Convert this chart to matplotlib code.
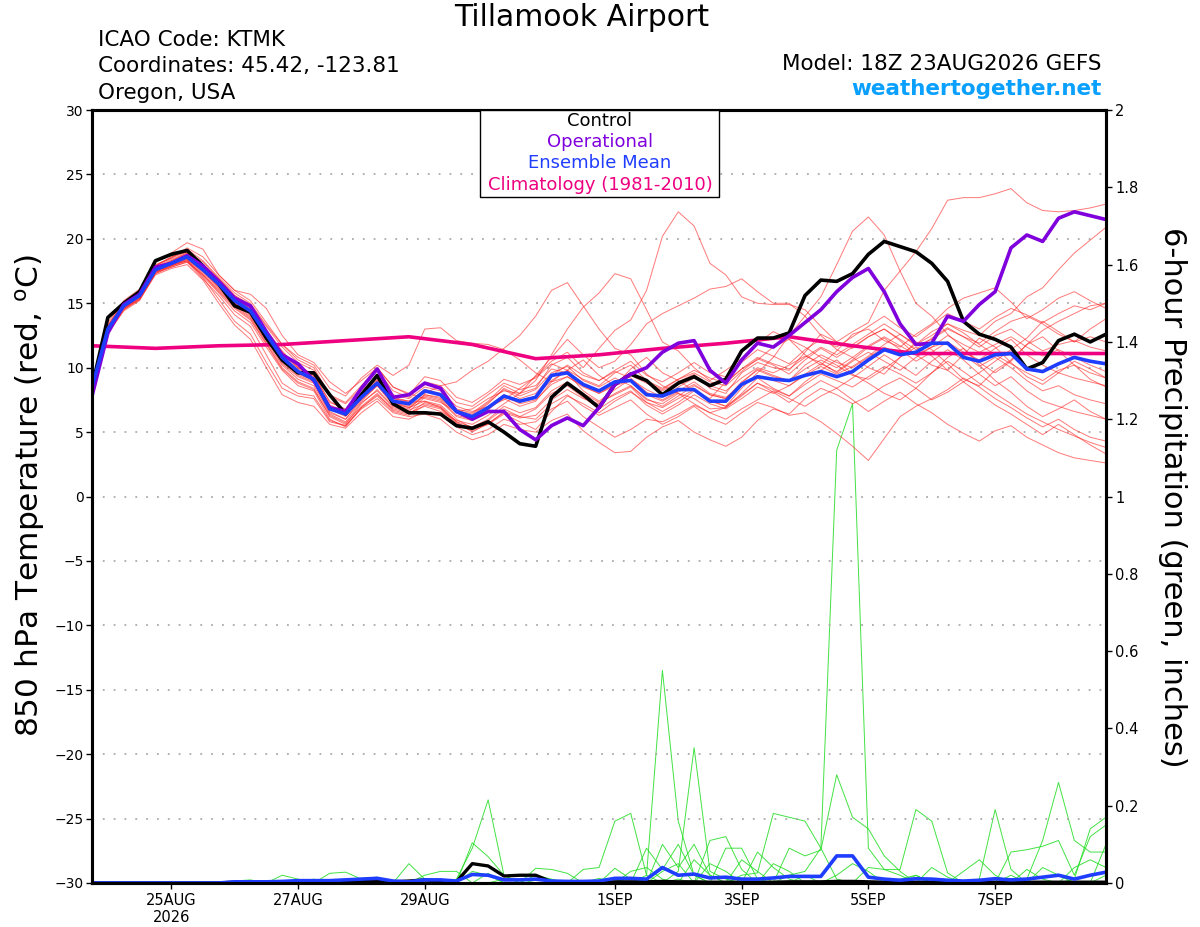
import numpy as np
import pandas as pd
import matplotlib
matplotlib.use("Agg")
import matplotlib.pyplot as plt
from matplotlib.patches import Rectangle

plt.rcParams['font.family'] = ['DejaVu Sans']

# 6-hourly forecast steps, 18Z 23AUG2026 to 18Z 8SEP2026
times = pd.date_range("2026-08-23 18:00", periods=65, freq="6h")
clim_times = times[::4]

tick_dates = pd.to_datetime(["2026-08-25", "2026-08-27", "2026-08-29", "2026-09-01",
                             "2026-09-03", "2026-09-05", "2026-09-07"])
tick_labels = ["25AUG\n2026", "27AUG", "29AUG", "1SEP", "3SEP", "5SEP", "7SEP"]

# 850 hPa temperature (C)
control_t = [8.5, 13.9, 15.0, 15.9, 18.3, 18.8, 19.1, 17.9, 16.5, 14.8, 14.3, 12.3, 10.6,
             9.6, 9.6, 7.9, 6.4, 7.9, 9.4, 7.2, 6.5, 6.5, 6.4, 5.5, 5.3,
             5.8, 5.0, 4.1, 3.9, 7.7, 8.8, 7.9, 6.9, 8.7, 9.5, 9.0, 7.9,
             8.8, 9.3, 8.6, 9.1, 11.3, 12.3, 12.3, 12.7, 15.6, 16.8, 16.7, 17.3,
             18.8, 19.8, 19.4, 19.0, 18.1, 16.7, 13.6, 12.6, 12.2, 11.6, 9.9, 10.4, 12.1, 12.6, 12.0, 12.6]
oper_t = [7.8, 12.7, 14.9, 15.7, 17.8, 18.1, 18.7, 17.9, 16.7, 15.4, 14.8, 12.8, 11.0,
          10.3, 9.0, 6.9, 6.6, 8.4, 9.9, 7.7, 7.9, 8.8, 8.4, 6.6, 6.0,
          6.6, 6.6, 5.2, 4.4, 5.5, 6.1, 5.5, 6.9, 8.7, 9.5, 10.0, 11.2,
          11.9, 12.1, 9.8, 8.8, 10.6, 11.9, 11.6, 12.5, 13.5, 14.5, 15.9, 17.0,
          17.7, 15.9, 13.4, 11.8, 11.9, 14.0, 13.6, 14.9, 15.9, 19.3, 20.3, 19.8, 21.6, 22.1, 21.8, 21.5]
mean_t = [8.5, 13.0, 14.8, 15.6, 17.6, 18.1, 18.6, 17.6, 16.5, 15.2, 14.4, 12.6, 10.8,
          9.7, 9.1, 6.8, 6.4, 7.7, 8.8, 7.4, 7.2, 8.2, 7.9, 6.6, 6.2,
          6.9, 7.8, 7.4, 7.7, 9.4, 9.6, 8.7, 8.2, 8.9, 9.0, 7.9, 7.8,
          8.3, 8.3, 7.4, 7.4, 8.7, 9.3, 9.1, 9.0, 9.4, 9.7, 9.3, 9.7,
          10.6, 11.4, 11.0, 11.2, 11.9, 11.9, 10.8, 10.5, 11.0, 11.1, 9.9, 9.7, 10.3, 10.8, 10.5, 10.3]
clim_t = [11.7, 11.5, 11.7, 11.8, 12.1, 12.4, 11.8, 10.7, 11.0, 11.5, 11.9, 12.4, 11.7,
          11.1, 11.1, 11.1, 11.1]

ens01 = [8.6, 13.2, 14.9, 15.8, 17.9, 18.6, 19.0, 18.2, 16.9, 15.6, 14.8, 12.9, 11.2,
         10.1, 9.5, 7.3, 6.8, 8.2, 9.4, 7.9, 7.6, 8.5, 8.2, 7.0, 6.6,
         7.0, 7.5, 8.4, 9.3, 10.5, 11.2, 10.0, 11.5, 12.9, 13.7, 16.0, 20.2,
         22.1, 21.0, 18.1, 17.2, 15.5, 15.0, 14.9, 14.9, 14.5, 13.2, 12.0, 11.5,
         12.4, 13.0, 12.1, 11.0, 10.2, 9.8, 11.0, 12.3, 11.6, 10.4, 9.3, 8.7, 9.6, 10.5, 9.9, 9.2]
ens02 = [8.4, 12.8, 14.6, 15.4, 17.4, 18.0, 18.4, 17.5, 16.2, 14.9, 14.0, 12.2, 10.3,
         9.3, 8.8, 6.5, 6.0, 7.6, 9.0, 7.6, 7.4, 8.0, 8.6, 8.9, 9.8,
         10.5, 11.5, 12.5, 14.0, 16.0, 16.6, 14.8, 13.0, 11.5, 11.0, 9.5, 8.6,
         8.0, 7.2, 6.5, 6.9, 8.0, 9.2, 8.4, 7.8, 8.9, 9.8, 10.6, 9.5,
         8.8, 8.0, 7.5, 8.4, 9.6, 10.8, 11.5, 10.2, 9.0, 8.1, 7.0, 6.2, 6.8, 7.5, 6.6, 6.0]
ens03 = [8.7, 13.3, 15.1, 16.0, 18.0, 18.5, 19.3, 18.6, 17.2, 16.0, 15.7, 14.6, 12.5,
         11.0, 10.4, 8.9, 8.0, 9.0, 10.0, 8.5, 8.0, 7.6, 7.3, 6.6, 6.8,
         7.6, 8.2, 8.0, 9.0, 11.0, 13.0, 14.7, 15.8, 17.3, 16.9, 14.5, 12.0,
         11.3, 10.0, 9.0, 9.8, 10.7, 11.9, 12.8, 12.2, 11.0, 10.2, 11.3, 12.6,
         13.0, 12.1, 11.6, 12.6, 13.4, 14.6, 15.4, 15.8, 16.2, 15.1, 13.8, 14.5, 15.4, 15.9, 15.2, 14.6]
ens04 = [8.3, 12.7, 14.4, 15.2, 17.3, 17.9, 18.3, 17.1, 15.8, 14.4, 13.5, 11.6, 9.8,
         8.6, 8.2, 6.0, 5.4, 6.9, 7.9, 6.8, 6.5, 7.0, 6.6, 5.9, 5.6,
         6.3, 7.2, 8.0, 9.4, 10.8, 12.2, 11.0, 10.0, 10.5, 11.8, 13.4, 14.2,
         14.8, 15.4, 16.1, 16.3, 16.9, 15.9, 15.0, 15.0, 14.0, 12.5, 11.4, 10.8,
         10.0, 9.5, 10.8, 12.0, 11.4, 10.3, 9.1, 8.6, 9.8, 10.6, 11.8, 12.4, 11.3, 10.2, 9.1, 8.5]
ens05 = [8.5, 13.1, 14.8, 15.7, 17.8, 18.4, 18.9, 17.9, 16.8, 15.4, 14.6, 12.9, 11.3,
         10.0, 9.4, 7.4, 6.7, 7.9, 8.8, 7.3, 6.9, 7.4, 7.1, 6.0, 5.3,
         5.6, 6.4, 5.8, 5.2, 6.6, 7.8, 7.2, 6.5, 7.4, 8.1, 7.3, 6.9,
         7.6, 8.3, 7.5, 7.0, 8.4, 9.6, 10.8, 12.5, 14.0, 15.5, 18.0, 20.6,
         21.7, 20.3, 17.5, 15.0, 14.0, 12.6, 11.5, 10.4, 9.6, 10.5, 11.8, 12.9, 13.6, 14.2, 14.8, 15.0]
ens06 = [8.6, 13.0, 14.7, 15.5, 17.5, 18.0, 18.5, 17.4, 16.3, 15.0, 14.2, 12.4, 10.6,
         9.6, 9.0, 6.9, 6.3, 7.5, 8.6, 7.2, 6.9, 7.8, 7.5, 6.3, 6.0,
         6.8, 7.6, 7.0, 7.4, 8.9, 9.3, 8.5, 8.0, 8.7, 9.4, 8.8, 8.2,
         8.9, 9.5, 8.4, 8.0, 9.6, 10.4, 10.0, 9.8, 11.2, 12.6, 12.0, 12.8,
         13.5, 16.0, 17.5, 19.0, 20.8, 23.0, 23.2, 23.2, 23.5, 23.9, 22.8, 22.2, 22.1, 22.2, 22.4, 22.7]
ens07 = [8.2, 12.9, 14.6, 15.3, 17.4, 17.8, 18.2, 17.2, 16.0, 14.7, 13.8, 11.9, 10.0,
         8.9, 8.4, 6.2, 5.6, 7.2, 8.3, 7.0, 6.7, 7.2, 6.9, 5.8, 5.0,
         5.7, 6.5, 6.1, 6.3, 7.5, 8.3, 7.6, 7.2, 8.0, 8.6, 7.6, 7.0,
         7.8, 8.6, 7.9, 7.6, 8.8, 9.9, 9.4, 9.0, 10.2, 11.0, 10.4, 10.0,
         10.8, 11.6, 11.0, 11.8, 12.8, 13.4, 12.9, 12.5, 13.6, 14.2, 15.5, 16.2, 17.6, 18.9, 19.9, 20.9]
ens08 = [8.8, 13.5, 15.2, 16.1, 18.2, 18.9, 19.7, 19.2, 17.2, 16.0, 15.2, 13.5, 11.8,
         10.8, 10.2, 8.4, 7.8, 9.2, 10.2, 9.4, 10.2, 13.0, 13.1, 12.1, 11.9,
         11.8, 11.4, 10.6, 9.6, 8.9, 9.8, 10.6, 9.4, 8.6, 9.9, 10.8, 9.6,
         9.0, 8.2, 7.6, 8.9, 9.9, 10.6, 11.6, 12.2, 11.6, 10.8, 10.2, 9.4,
         9.1, 9.9, 10.8, 11.6, 10.9, 9.8, 8.9, 9.6, 10.5, 11.4, 12.3, 13.6, 12.8, 12.0, 13.0, 13.8]
ens09 = [8.3, 12.6, 14.5, 15.3, 17.2, 17.7, 18.0, 16.8, 15.0, 13.3, 12.2, 10.0, 7.9,
         7.3, 7.0, 5.6, 5.3, 6.5, 7.4, 6.2, 6.0, 6.6, 6.3, 5.4, 4.8,
         5.2, 6.0, 5.6, 5.8, 6.8, 7.4, 6.2, 5.4, 4.6, 5.2, 6.0, 5.8,
         6.4, 7.1, 6.5, 6.0, 6.8, 7.5, 8.2, 7.6, 7.0, 7.8, 8.4, 7.5,
         6.6, 7.4, 8.1, 7.2, 6.5, 5.6, 4.9, 4.3, 5.1, 5.5, 4.6, 4.0, 3.4, 3.0, 2.8, 2.6]
ens10 = [8.4, 12.9, 14.7, 15.5, 17.5, 17.9, 18.3, 17.0, 15.3, 13.6, 12.6, 10.4, 8.4,
         7.8, 7.6, 5.8, 5.5, 6.8, 7.6, 6.5, 6.2, 6.4, 6.0, 5.0, 4.4,
         4.8, 5.6, 5.2, 5.0, 5.9, 6.4, 5.1, 4.2, 3.4, 3.5, 4.6, 5.4,
         5.9, 5.0, 4.4, 3.9, 4.6, 5.9, 6.8, 6.4, 7.6, 8.4, 7.9, 7.2,
         7.8, 8.6, 9.2, 8.4, 7.5, 8.1, 8.9, 8.0, 7.1, 6.4, 5.6, 4.8, 5.6, 4.8, 4.0, 3.3]
ens11 = [8.6, 13.0, 14.8, 15.6, 17.6, 18.2, 18.6, 17.8, 16.6, 15.3, 14.5, 12.7, 11.0,
         9.9, 9.3, 7.0, 6.5, 7.8, 9.0, 7.6, 7.3, 7.4, 6.9, 5.7, 5.2,
         5.9, 6.8, 6.2, 6.0, 7.2, 7.9, 7.0, 6.3, 6.9, 7.5, 6.4, 5.6,
         6.2, 7.0, 6.1, 5.6, 6.5, 7.3, 6.9, 6.3, 6.5, 5.8, 4.9, 3.9,
         2.8, 4.5, 6.2, 7.0, 7.6, 8.3, 9.2, 8.5, 7.6, 6.9, 6.1, 5.4, 6.0, 5.2, 4.6, 4.3]
ens12 = [8.5, 13.1, 14.9, 15.8, 17.7, 18.3, 18.8, 17.7, 16.4, 15.1, 14.1, 12.3, 10.4,
         9.4, 8.9, 6.6, 6.0, 7.4, 8.6, 7.1, 6.8, 7.9, 7.7, 6.5, 6.3,
         7.2, 8.4, 7.8, 8.3, 9.6, 10.1, 9.0, 8.5, 9.2, 8.6, 7.5, 7.2,
         8.0, 7.6, 6.8, 6.9, 7.8, 8.8, 8.1, 7.3, 8.2, 9.0, 8.4, 9.2,
         10.1, 11.0, 10.2, 9.4, 10.5, 11.4, 10.6, 9.5, 8.6, 9.3, 8.2, 7.4, 7.0, 6.6, 6.3, 6.0]
ens13 = [8.7, 13.2, 15.0, 15.9, 17.9, 18.5, 19.0, 18.0, 16.9, 15.6, 14.9, 13.2, 11.6,
         10.4, 9.8, 7.8, 7.2, 8.4, 9.8, 8.2, 7.7, 8.9, 8.6, 7.3, 7.0,
         7.9, 8.8, 8.3, 8.6, 9.9, 9.6, 8.2, 7.4, 8.3, 9.1, 8.3, 7.7,
         8.5, 9.2, 8.6, 8.2, 9.2, 10.0, 9.6, 10.2, 10.9, 10.4, 9.6, 10.5,
         11.2, 10.5, 9.8, 10.8, 11.6, 12.0, 11.2, 10.6, 11.5, 12.2, 11.0, 10.2, 9.6, 9.2, 8.9, 8.6]
ens14 = [8.4, 12.8, 14.6, 15.4, 17.4, 17.9, 18.4, 17.3, 16.1, 14.8, 13.9, 12.0, 10.2,
         9.1, 8.6, 6.4, 5.8, 7.3, 8.2, 6.9, 6.6, 7.7, 7.4, 6.2, 5.9,
         6.7, 7.9, 7.3, 7.8, 9.0, 9.8, 9.1, 8.6, 9.6, 10.2, 9.0, 8.4,
         9.1, 9.6, 8.9, 8.6, 9.7, 10.7, 10.2, 9.5, 10.6, 11.5, 10.8, 11.6,
         12.4, 13.0, 12.2, 11.4, 12.3, 13.1, 12.4, 11.6, 12.5, 13.0, 12.1, 11.3, 11.8, 12.1, 11.6, 11.3]
ens15 = [8.6, 13.1, 14.9, 15.7, 17.7, 18.3, 18.9, 17.8, 16.6, 15.4, 14.6, 12.8, 11.1,
         10.0, 9.4, 7.1, 6.6, 7.9, 9.1, 7.7, 7.4, 8.3, 8.0, 6.8, 6.5,
         7.4, 8.6, 8.0, 8.4, 10.2, 10.8, 9.6, 9.0, 9.8, 10.5, 9.4, 8.9,
         9.6, 10.4, 9.6, 9.3, 10.4, 11.4, 10.9, 10.3, 11.4, 12.2, 11.6, 12.4,
         13.2, 14.0, 13.1, 12.4, 13.3, 14.2, 13.6, 13.0, 13.9, 14.6, 14.1, 13.5, 14.2, 14.8, 14.5, 15.0]
ens16 = [8.3, 12.7, 14.5, 15.3, 17.3, 17.8, 18.2, 16.9, 15.6, 14.1, 13.2, 11.0, 8.8,
         8.0, 7.8, 5.9, 5.5, 6.9, 7.8, 6.6, 6.3, 7.1, 6.8, 5.6, 5.1,
         5.6, 6.6, 6.2, 6.8, 8.0, 8.6, 7.7, 6.8, 7.6, 8.2, 7.1, 6.4,
         7.1, 7.9, 7.2, 6.8, 7.6, 8.5, 8.0, 8.6, 9.5, 10.3, 9.7, 10.6,
         11.6, 12.3, 11.4, 10.5, 11.2, 12.0, 11.0, 10.1, 10.8, 10.0, 9.0, 8.2, 8.6, 7.9, 7.5, 7.2]
ens17 = [8.5, 13.0, 14.7, 15.5, 17.6, 18.1, 18.5, 17.5, 16.3, 15.0, 14.2, 12.3, 10.5,
         9.5, 9.0, 6.8, 6.2, 7.7, 8.8, 7.4, 7.1, 8.2, 7.9, 6.7, 6.4,
         7.3, 8.3, 7.6, 8.0, 9.4, 10.2, 9.4, 9.0, 9.7, 9.2, 8.1, 7.5,
         8.2, 8.9, 8.0, 7.7, 8.6, 9.4, 9.0, 8.6, 9.4, 10.1, 9.5, 10.1,
         10.9, 11.8, 12.6, 11.8, 12.5, 13.4, 12.7, 11.8, 11.0, 10.3, 9.6, 9.0, 9.8, 10.2, 9.6, 9.2]
ens18 = [8.4, 12.8, 14.6, 15.5, 17.5, 18.0, 18.3, 17.2, 15.9, 14.6, 13.7, 11.8, 9.9,
         8.8, 8.3, 6.3, 5.7, 7.0, 8.0, 6.7, 6.4, 7.3, 7.0, 5.8, 5.4,
         6.0, 7.0, 6.5, 6.9, 8.2, 8.9, 8.0, 7.3, 7.9, 8.5, 7.3, 6.6,
         7.3, 8.2, 7.4, 7.0, 7.9, 8.8, 8.3, 7.8, 8.7, 9.5, 9.0, 8.5,
         9.3, 10.1, 9.5, 8.8, 9.6, 10.5, 9.7, 8.8, 8.0, 7.2, 6.4, 5.8, 5.2, 4.7, 4.2, 3.8]
ens19 = [8.7, 13.3, 15.1, 15.9, 17.9, 18.6, 19.2, 18.3, 17.0, 15.8, 15.0, 13.3, 11.8,
         10.6, 10.0, 7.9, 7.3, 8.6, 10.0, 8.5, 7.9, 9.3, 9.0, 7.7, 7.3,
         8.1, 9.1, 8.7, 9.2, 10.3, 9.8, 8.6, 8.1, 8.8, 9.6, 8.9, 8.3,
         9.1, 9.8, 9.2, 8.8, 9.9, 10.8, 10.3, 9.9, 10.8, 11.6, 11.0, 11.8,
         12.6, 13.4, 12.6, 11.7, 12.2, 13.0, 12.4, 11.9, 12.8, 13.6, 14.0, 13.4, 12.6, 12.0, 12.4, 12.0]
ens20 = [8.4, 12.9, 14.7, 15.6, 17.6, 18.2, 18.7, 17.6, 16.4, 15.2, 14.4, 12.5, 10.7,
         9.7, 9.1, 6.9, 6.4, 7.6, 8.7, 7.3, 7.0, 7.9, 7.6, 6.5, 6.1,
         6.9, 7.8, 7.2, 7.5, 8.7, 9.3, 8.6, 8.0, 8.6, 9.0, 7.9, 7.4,
         8.1, 8.7, 7.9, 7.6, 8.9, 9.8, 9.3, 9.0, 9.9, 10.6, 10.0, 10.8,
         11.7, 12.4, 11.7, 11.0, 11.6, 12.5, 11.8, 11.2, 11.8, 12.4, 11.6, 10.9, 11.4, 10.8, 10.2, 9.7]
ens_t = [ens01, ens02, ens03, ens04, ens05, ens06, ens07, ens08, ens09, ens10,
         ens11, ens12, ens13, ens14, ens15, ens16, ens17, ens18, ens19, ens20]

# 6-hour precipitation (inches)
control_p = [0, 0, 0, 0, 0, 0, 0, 0, 0,
             0.002, 0.002, 0.003, 0.003, 0.003, 0.003, 0.004, 0.004, 0.005, 0.004, 0.003,
             0.005, 0.008, 0.005, 0.003,
             0.05, 0.044, 0.018, 0.02, 0.02, 0.003,
             0.002, 0.002, 0.002, 0.003, 0.003, 0.003, 0.004, 0.003, 0.003, 0.002, 0.002, 0.002,
             0.002, 0.002, 0.003, 0.003, 0.003, 0.004, 0.004, 0.003, 0.002, 0.002, 0.002, 0.002,
             0.002, 0.002, 0.002, 0.002, 0.002, 0.002, 0.002, 0.002, 0.002, 0.002, 0.002]
mean_p = [0, 0, 0, 0, 0, 0, 0, 0, 0,
          0.003, 0.003, 0.003, 0.004, 0.006, 0.006, 0.006, 0.008, 0.01, 0.012, 0.005,
          0.003, 0.008, 0.008, 0.005,
          0.022, 0.02, 0.008, 0.008, 0.01, 0.005,
          0.004, 0.004, 0.005, 0.012, 0.012, 0.01, 0.04, 0.02, 0.023, 0.013, 0.015, 0.01,
          0.01, 0.013, 0.017, 0.017, 0.017, 0.07, 0.07, 0.015, 0.01, 0.007, 0.011, 0.01,
          0.007, 0.005, 0.007, 0.011, 0.008, 0.01, 0.015, 0.02, 0.01, 0.02, 0.028]
# members: (step, amount) for steps with rain, dry otherwise
ens_p_events = [
    [(12, 0.02), (13, 0.01), (31, 0.035), (32, 0.04), (33, 0.16), (34, 0.18), (35, 0.02), (52, 0.02)],
    [(23, 0.01), (24, 0.09), (25, 0.215), (26, 0.02), (35, 0.02), (36, 0.55), (37, 0.16), (38, 0.02)],
    [(24, 0.104), (25, 0.068), (26, 0.02), (37, 0.03), (38, 0.35), (39, 0.03), (40, 0.01)],
    [(20, 0.05), (21, 0.01), (28, 0.038), (29, 0.035), (30, 0.025), (44, 0.02), (45, 0.03),
     (46, 0.09), (47, 1.12), (48, 1.24), (49, 0.09), (50, 0.035), (51, 0.035), (52, 0.19),
     (53, 0.16), (54, 0.026)],
    [(15, 0.025), (16, 0.028), (17, 0.01), (44, 0.09), (45, 0.07), (46, 0.085), (47, 0.28),
     (48, 0.17), (49, 0.14), (50, 0.07), (51, 0.03)],
    [(35, 0.09), (36, 0.035), (37, 0.10), (38, 0.02), (41, 0.02), (42, 0.026), (43, 0.18),
     (44, 0.17), (45, 0.16), (46, 0.09), (47, 0.01), (56, 0.01), (57, 0.19), (58, 0.035)],
    [(36, 0.10), (37, 0.04), (38, 0.10), (39, 0.02), (58, 0.08), (59, 0.086), (60, 0.095),
     (61, 0.11), (62, 0.02), (63, 0.12), (64, 0.15)],
    [(39, 0.11), (40, 0.12), (41, 0.035), (59, 0.01), (60, 0.11), (61, 0.26), (62, 0.11),
     (63, 0.08), (64, 0.08)],
    [(40, 0.09), (41, 0.09), (42, 0.01), (62, 0.01), (63, 0.14), (64, 0.17)],
    [(24, 0.03), (25, 0.02), (33, 0.038), (34, 0.01), (49, 0.04), (50, 0.035), (51, 0.02),
     (53, 0.04), (54, 0.015)],
    [(9, 0.005), (10, 0.008), (33, 0.01), (36, 0.03), (37, 0.05), (43, 0.05), (44, 0.03),
     (55, 0.03), (56, 0.06), (57, 0.02), (60, 0.04), (61, 0.02)],
    [(17, 0.012), (18, 0.015), (32, 0.012), (39, 0.05), (40, 0.03), (47, 0.02), (48, 0.05),
     (49, 0.03), (59, 0.035), (60, 0.01), (64, 0.10)],
    [(21, 0.02), (22, 0.03), (23, 0.03), (38, 0.06), (39, 0.02), (51, 0.01), (52, 0.02),
     (62, 0.04), (63, 0.06), (64, 0.04)],
    [(14, 0.01), (25, 0.025), (34, 0.03), (35, 0.04), (36, 0.01), (45, 0.02), (53, 0.01),
     (58, 0.02), (64, 0.02)],
    [(28, 0.02), (29, 0.01), (42, 0.08), (43, 0.04), (44, 0.01)],
    [(13, 0.005), (26, 0.01), (27, 0.01), (37, 0.01), (41, 0.06), (42, 0.03), (55, 0.005)],
]

fig = plt.figure(figsize=(12, 9.27), dpi=100)
ax = fig.add_axes([0.0767, 0.0475, 0.845, 0.8338])
ax2 = ax.twinx()
ax.set_zorder(ax2.get_zorder() + 1)
ax.patch.set_visible(False)

# precipitation (right axis)
for events in ens_p_events:
    p = np.zeros(len(times))
    for step, amount in events:
        p[step] = amount
    ax2.plot(times, p, color='#22dd22', lw=0.7, alpha=0.85)
ax2.plot(times, control_p, color='black', lw=2.4)
ax2.plot(times, mean_p, color='#1f3dff', lw=2.6)
ax2.set_ylim(0, 2)
ax2.set_yticks(np.arange(0, 2.01, 0.2))
ax2.set_yticklabels(["%g" % round(v, 1) for v in np.arange(0, 2.01, 0.2)])

# temperature (left axis)
for member in ens_t:
    ax.plot(times, member, color='#ff2020', lw=0.7, alpha=0.6)
ax.plot(clim_times, clim_t, color='#ee0080', lw=2.6)
ax.plot(times, control_t, color='black', lw=2.6)
ax.plot(times, oper_t, color='#8000dd', lw=2.6)
ax.plot(times, mean_t, color='#1f3dff', lw=2.6)

ax.set_xlim(times[0], times[-1])
ax.set_ylim(-30, 30)
ax.set_yticks(range(-30, 31, 5))
for level in range(-25, 30, 5):
    ax.axhline(level, color='#aaaaaa', lw=1.3, ls=(0, (1, 5)), zorder=0)
ax.set_xticks(tick_dates)
ax.set_xticklabels(tick_labels)

for a in (ax, ax2):
    for s in a.spines.values():
        s.set_linewidth(2.2)
ax.tick_params(axis='y', labelsize=10, length=4.5, width=1, pad=1.5)
ax2.tick_params(axis='y', labelsize=10.5, length=4.5, width=1, pad=2)
ax.tick_params(axis='x', labelsize=10.5, length=4, width=1, pad=3)

# legend box
ax.add_patch(Rectangle((0.383, 0.887), 0.235, 0.113, transform=ax.transAxes,
                       facecolor='white', edgecolor='black', lw=1.0, zorder=10))
legend_items = [("Control", "black"), ("Operational", "#8000dd"),
                ("Ensemble Mean", "#1f3dff"), ("Climatology (1981-2010)", "#ee0080")]
for k, (name, col) in enumerate(legend_items):
    ax.text(0.501, 0.986 - k * 0.0275, name, color=col, fontsize=13,
            ha='center', va='center', transform=ax.transAxes, zorder=11)

fig.text(0.485, 1 - 18 / 927, "Tillamook Airport", fontsize=21.5, ha='center', va='center')
fig.text(98 / 1200, 1 - 40 / 927, "ICAO Code: KTMK", fontsize=15.5, va='center')
fig.text(98 / 1200, 1 - 66 / 927, "Coordinates: 45.42, -123.81", fontsize=15.5, va='center')
fig.text(98 / 1200, 1 - 93 / 927, "Oregon, USA", fontsize=15.5, va='center')
fig.text(1102 / 1200, 1 - 64 / 927, "Model: 18Z 23AUG2026 GEFS", fontsize=15.5,
         ha='right', va='center')
fig.text(1102 / 1200, 1 - 89 / 927, "weathertogether.net", fontsize=15.5, fontweight='bold',
         color='#0aa0ff', ha='right', va='center')
fig.text(30 / 1200, 1 - 496 / 927, "850 hPa Temperature (red, $^\\mathrm{o}$C)", fontsize=22.5,
         rotation=90, ha='center', va='center')
fig.text(1172 / 1200, 1 - 497 / 927, "6-hour Precipitation (green, inches)", fontsize=22,
         rotation=270, ha='center', va='center')

fig.savefig("out.png", dpi=100)
